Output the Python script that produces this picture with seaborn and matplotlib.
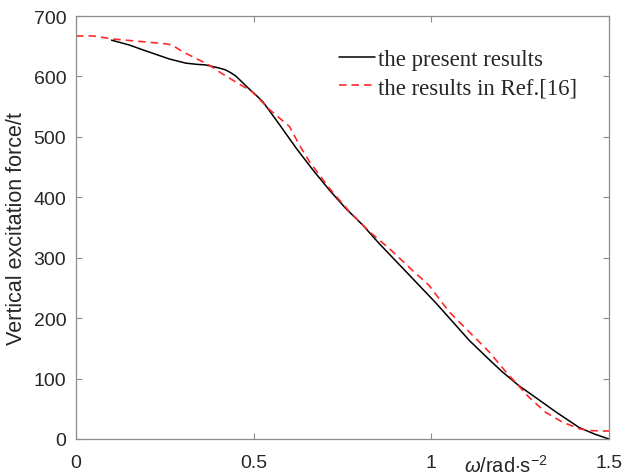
import numpy as np
import pandas as pd
import matplotlib
matplotlib.use("Agg")
import matplotlib.pyplot as plt
import seaborn as sns

# present results (black solid)
omega_present = [0.1, 0.15, 0.188, 0.262, 0.309, 0.34, 0.365, 0.38, 0.402, 0.42, 0.433,
                 0.449, 0.465, 0.486, 0.505, 0.526, 0.573, 0.62, 0.667, 0.713, 0.76,
                 0.807, 0.854, 0.919, 1.013, 1.06, 1.107, 1.16, 1.2, 1.247, 1.3,
                 1.35, 1.416, 1.46, 1.5]
force_present = [660, 652, 644, 629, 622, 620, 619, 617, 614, 611, 607,
                 601, 592, 580, 570, 558, 520, 481, 445, 412, 381,
                 354, 323, 283, 225, 194, 163, 133, 111, 88, 66,
                 45, 19, 8, 0]

# results in Ref.[16] (red dashed)
omega_ref = [0, 0.048, 0.103, 0.197, 0.253, 0.27, 0.30, 0.337, 0.374, 0.41,
             0.449, 0.495, 0.545, 0.601, 0.629, 0.657, 0.713, 0.77, 0.826, 0.882,
             0.947, 0.994, 1.022, 1.051, 1.107, 1.163, 1.21, 1.275, 1.322, 1.369,
             1.416, 1.444, 1.5]
force_ref = [667, 667, 662, 657, 654, 652, 641, 630, 619, 605,
             591, 575, 545, 517, 486, 459, 415, 376, 343, 315,
             279, 254, 232, 210, 177, 144, 111, 69, 44, 28,
             17, 14, 13]

x_ticks = [0, 0.5, 1, 1.5]
x_ticklabels = ["0", "0.5", "1", "1.5"]
y_ticks = [0, 100, 200, 300, 400, 500, 600, 700]

sns.set_theme(style="ticks")
plt.rcParams["font.family"] = ["Liberation Sans", "DejaVu Sans"]
plt.rcParams["mathtext.fontset"] = "custom"
plt.rcParams["mathtext.rm"] = "Liberation Sans"
plt.rcParams["mathtext.it"] = "Liberation Sans:italic"

fig = plt.figure(figsize=(6.24, 4.77), dpi=100)
ax = fig.add_axes([76 / 624, 1 - 440 / 477, 533 / 624, 423 / 477])

df_p = pd.DataFrame({"omega": omega_present, "force": force_present})
df_r = pd.DataFrame({"omega": omega_ref, "force": force_ref})

sns.lineplot(data=df_p, x="omega", y="force", ax=ax, color="black", lw=1.1,
             label="the present results", sort=False)
sns.lineplot(data=df_r, x="omega", y="force", ax=ax, color="#ff2a2a", lw=1.2,
             label="the results in Ref.[16]", sort=False)
ax.lines[1].set_dashes([4.5, 3])

ax.set_xlim(0, 1.5)
ax.set_ylim(0, 700)
ax.set_xticks(x_ticks)
ax.set_xticklabels(x_ticklabels)
ax.set_yticks(y_ticks)

for s in ax.spines.values():
    s.set_color("#8c8c8c")
    s.set_linewidth(0.9)
ax.tick_params(direction="in", top=True, right=True, length=4, width=0.8,
               colors="#8c8c8c", labelcolor="#262626", labelsize=14)
ax.tick_params(axis="x", pad=11)
ax.tick_params(axis="y", pad=7)

ax.set_xlabel("")
ax.set_ylabel("Vertical excitation force/t", fontsize=15.5, color="#262626", labelpad=5)
ax.text(0.807, -0.078, r"$\omega$/rad$\cdot$s$^{-2}$", transform=ax.transAxes,
        ha="center", va="baseline", fontsize=14.5, color="#262626")

leg = ax.legend(loc="upper left", bbox_to_anchor=(0.472, 0.95), frameon=False,
                prop={"family": "Liberation Serif", "size": 16.4}, borderpad=0,
                handlelength=1.58, handletextpad=0.12, labelspacing=0.34)

fig.savefig("out.png", dpi=100)
